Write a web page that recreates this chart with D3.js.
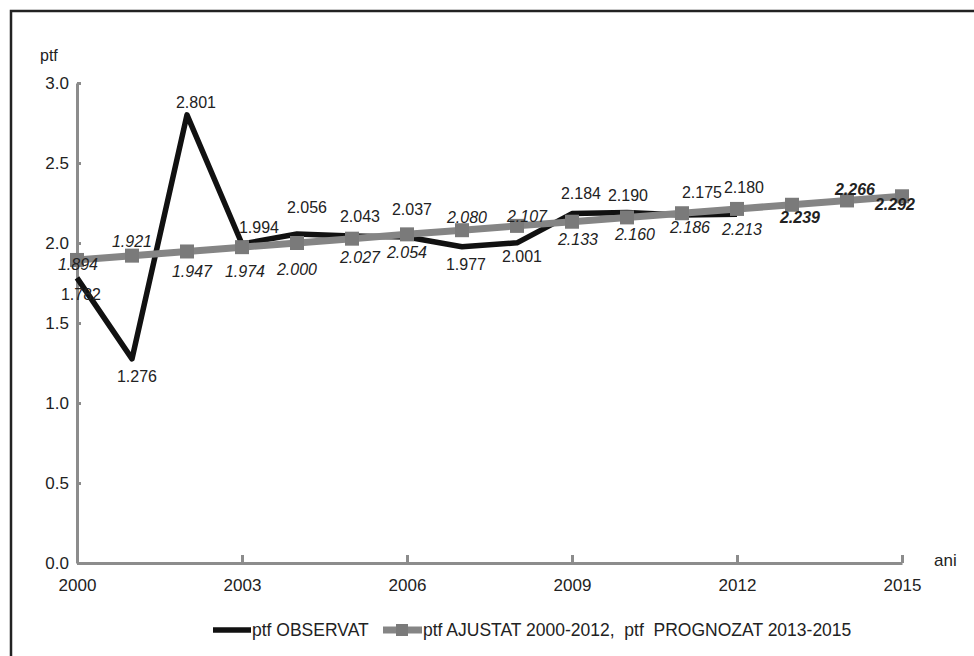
<!DOCTYPE html>
<html>
<head>
<meta charset="utf-8">
<script src="https://cdn.jsdelivr.net/npm/d3@7"></script>
<style>
  body { margin: 0; background: #fff; }
  text { font-family: "Liberation Sans", Arial, sans-serif; }
</style>
</head>
<body>
<div id="chart"></div>
<script>
// Years on the x axis
var years = [2000, 2001, 2002, 2003, 2004, 2005, 2006, 2007, 2008, 2009, 2010, 2011, 2012, 2013, 2014, 2015];

// Observed ptf (2000-2012)
var observed = [1.782, 1.276, 2.801, 1.994, 2.056, 2.043, 2.037, 1.977, 2.001, 2.184, 2.190, 2.175, 2.180];

// Fitted 2000-2012 and forecast 2013-2015
var fitted = [1.894, 1.921, 1.947, 1.974, 2.000, 2.027, 2.054, 2.080, 2.107, 2.133, 2.160, 2.186, 2.213, 2.239, 2.266, 2.292];
var forecastFrom = 2013;

// Tick labels
var xTicks = [2000, 2003, 2006, 2009, 2012, 2015];
var yTicks = [0, 0.5, 1.0, 1.5, 2.0, 2.5, 3.0];

// Where each value label sits relative to its point: [dx, dy baseline]
var obsLabelPos = [[4, 22], [5, 23], [9, -7], [17, -11], [10, -21], [8, -14], [5, -22], [4, 23], [5, 19], [9, -15], [1, -12], [20, -17], [7, -21]];
var fitLabelPos = [[1, 10], [0, -9], [5, 26], [3, 30], [0, 32], [8, 24], [0, 24], [5, -7], [10, -4], [6, 23], [8, 23], [8, 20], [5, 26], [8, 18], [8, -5], [-7, 14]];

var width = 974, height = 656;

var svg = d3.select("#chart")
    .append("svg")
    .attr("width", width)
    .attr("height", height);

// frame (top and left edges visible)
svg.append("path")
    .attr("d", "M11,656 L11,11 L974,11")
    .attr("fill", "none")
    .attr("stroke", "#222")
    .attr("stroke-width", 2.5);

var xScale = d3.scaleLinear().domain([2000, 2015]).range([77, 902]);
var yScale = d3.scaleLinear().domain([0, 3]).range([563, 83]);

// x axis
var xAxis = d3.axisBottom(xScale)
    .tickValues(xTicks)
    .tickFormat(d3.format("d"))
    .tickSizeInner(-8)
    .tickSizeOuter(0)
    .tickPadding(16);

var gx = svg.append("g")
    .attr("transform", "translate(0," + yScale(0) + ")")
    .call(xAxis);
gx.select(".domain").attr("stroke", "#8c8c8c").attr("stroke-width", 3);
gx.selectAll(".tick line").attr("stroke", "#8c8c8c").attr("stroke-width", 3);
gx.selectAll(".tick text")
    .attr("font-size", "17px")
    .attr("fill", "#222")
    .attr("font-family", "Liberation Sans, Arial, sans-serif");

// y axis
var yAxis = d3.axisLeft(yScale)
    .tickValues(yTicks)
    .tickFormat(d3.format(".1f"))
    .tickSizeInner(-4)
    .tickSizeOuter(0)
    .tickPadding(8);

var gy = svg.append("g")
    .attr("transform", "translate(" + xScale(2000) + ",0)")
    .call(yAxis);
gy.select(".domain").attr("stroke", "#8c8c8c").attr("stroke-width", 3);
gy.selectAll(".tick line").attr("stroke", "#8c8c8c").attr("stroke-width", 3);
gy.selectAll(".tick text")
    .attr("font-size", "17px")
    .attr("fill", "#222")
    .attr("font-family", "Liberation Sans, Arial, sans-serif");

// axis titles
svg.append("text")
    .attr("x", 40)
    .attr("y", 61)
    .attr("font-size", "16px")
    .attr("fill", "#222")
    .text("ptf");

svg.append("text")
    .attr("x", 934)
    .attr("y", 566)
    .attr("font-size", "17px")
    .attr("fill", "#222")
    .text("ani");

// observed line
var obsLine = d3.line()
    .x(function(d, i) { return xScale(years[i]); })
    .y(function(d) { return yScale(d); });

svg.append("path")
    .datum(observed)
    .attr("d", obsLine)
    .attr("fill", "none")
    .attr("stroke", "#111")
    .attr("stroke-width", 5.5)
    .attr("stroke-linejoin", "round");

// fitted / forecast line
svg.append("path")
    .datum(fitted)
    .attr("d", obsLine)
    .attr("fill", "none")
    .attr("stroke", "#858585")
    .attr("stroke-width", 7);

// square markers
svg.selectAll("rect.marker")
    .data(fitted)
    .enter()
    .append("rect")
    .attr("class", "marker")
    .attr("x", function(d, i) { return xScale(years[i]) - 7; })
    .attr("y", function(d) { return yScale(d) - 7; })
    .attr("width", 14)
    .attr("height", 14)
    .attr("fill", "#7a7a7a");

var fmt = d3.format(".3f");

// observed labels
svg.selectAll("text.obs")
    .data(observed)
    .enter()
    .append("text")
    .attr("class", "obs")
    .attr("x", function(d, i) { return xScale(years[i]) + obsLabelPos[i][0]; })
    .attr("y", function(d, i) { return yScale(d) + obsLabelPos[i][1]; })
    .attr("text-anchor", "middle")
    .attr("font-size", "16px")
    .attr("fill", "#222")
    .text(fmt);

// fitted labels (italic, forecast bold)
svg.selectAll("text.fit")
    .data(fitted)
    .enter()
    .append("text")
    .attr("class", "fit")
    .attr("x", function(d, i) { return xScale(years[i]) + fitLabelPos[i][0]; })
    .attr("y", function(d, i) { return yScale(d) + fitLabelPos[i][1]; })
    .attr("text-anchor", "middle")
    .attr("font-size", "16px")
    .attr("font-style", "italic")
    .attr("font-weight", function(d, i) { return years[i] >= forecastFrom ? "bold" : "normal"; })
    .attr("fill", "#222")
    .text(fmt);

// legend
var legend = svg.append("g").attr("transform", "translate(0,630)");

legend.append("line")
    .attr("x1", 213).attr("x2", 251)
    .attr("y1", 0).attr("y2", 0)
    .attr("stroke", "#111")
    .attr("stroke-width", 5.5);

legend.append("text")
    .attr("x", 252)
    .attr("y", 6)
    .attr("font-size", "17.5px")
    .attr("fill", "#222")
    .text("ptf OBSERVAT");

legend.append("line")
    .attr("x1", 383).attr("x2", 422)
    .attr("y1", 0).attr("y2", 0)
    .attr("stroke", "#858585")
    .attr("stroke-width", 7);

legend.append("rect")
    .attr("x", 396).attr("y", -6)
    .attr("width", 12).attr("height", 12)
    .attr("fill", "#7a7a7a");

legend.append("text")
    .attr("x", 423)
    .attr("y", 6)
    .attr("font-size", "17.5px")
    .attr("fill", "#222")
    .style("white-space", "pre")
    .text("ptf AJUSTAT 2000-2012,  ptf  PROGNOZAT 2013-2015");
</script>
</body>
</html>
